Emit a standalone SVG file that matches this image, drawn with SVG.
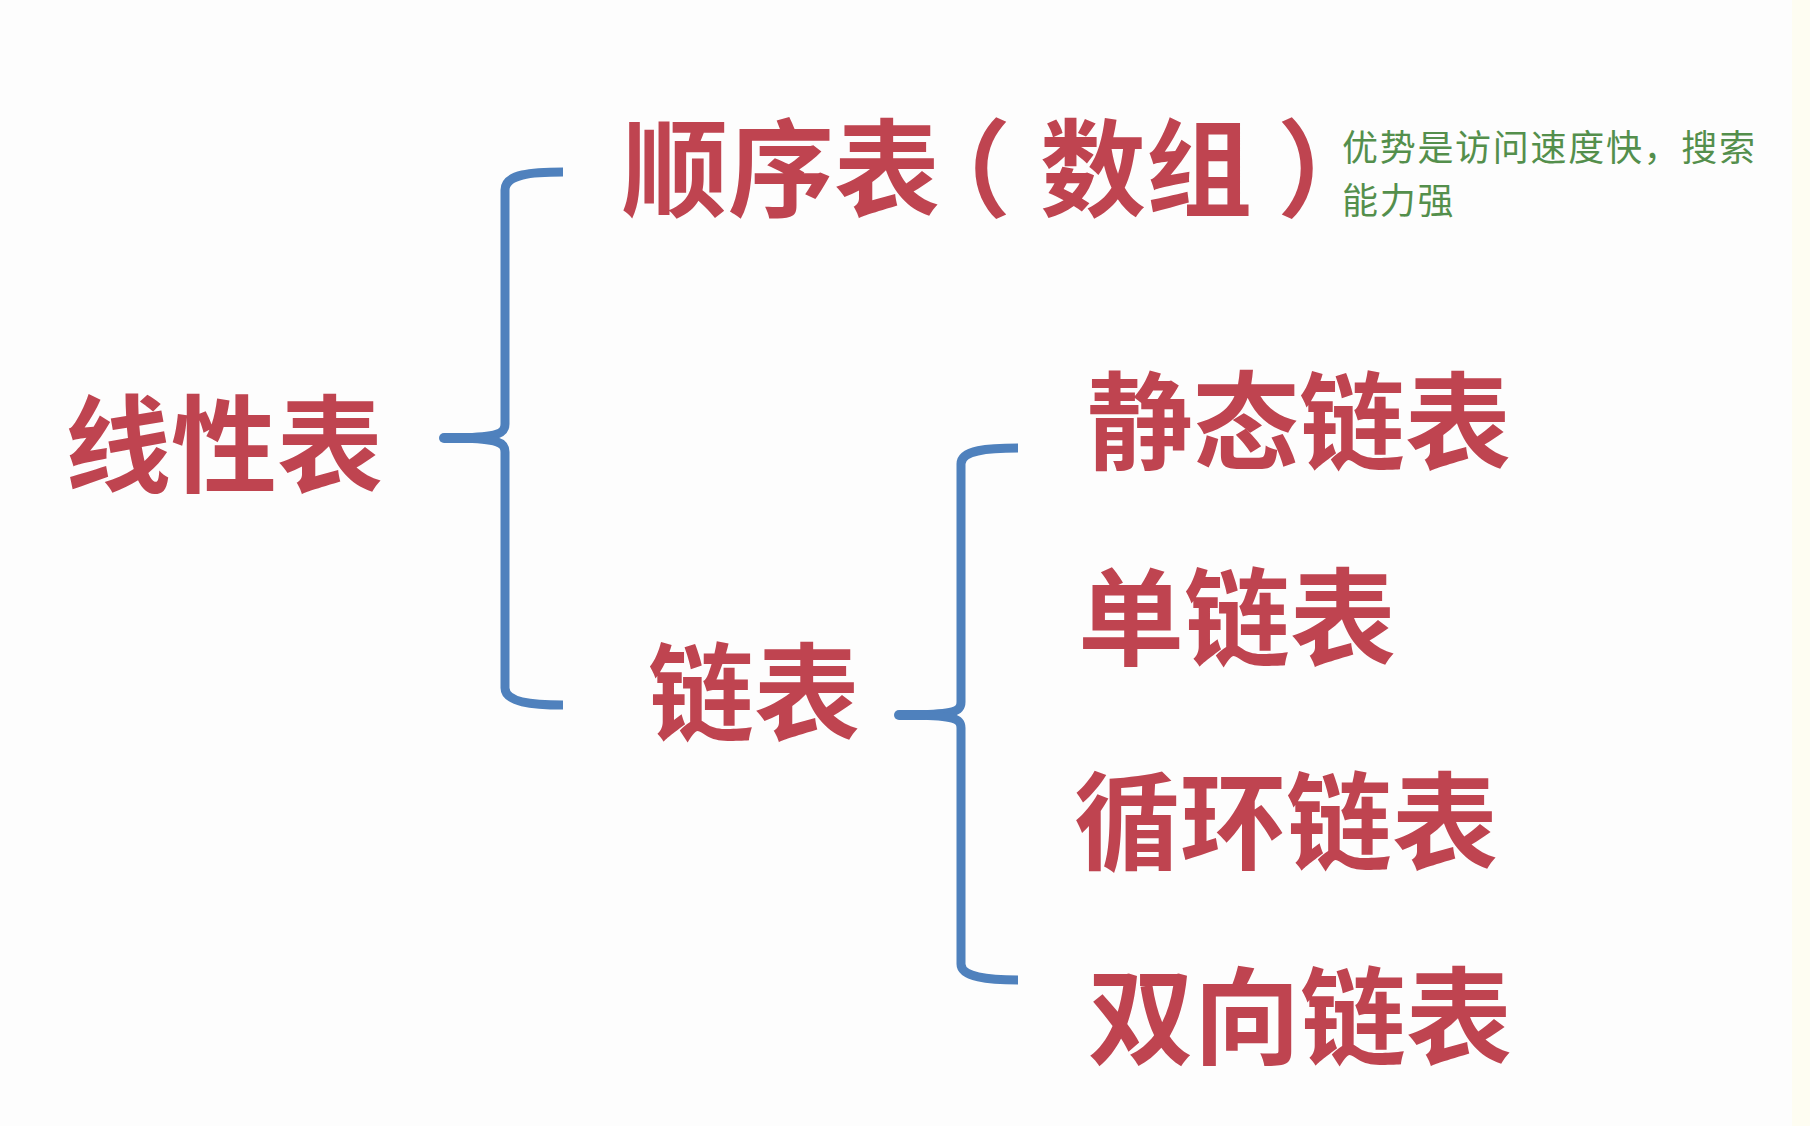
<svg xmlns="http://www.w3.org/2000/svg" width="1810" height="1126" viewBox="0 0 1810 1126">
  <style>
    .big { font-family: "Noto Sans CJK SC", "Noto Sans", sans-serif; font-weight: 700; font-size: 106px; fill: #BF4450; }
    .note { font-family: "Noto Sans CJK SC", "Noto Sans", sans-serif; font-weight: 400; font-size: 36px; fill: #548F4C; letter-spacing: 1.7px; }
    .brace { fill: none; stroke: #4F81BD; stroke-width: 9; stroke-linecap: butt; stroke-linejoin: round; }
    .tip { fill: none; stroke: #4F81BD; stroke-width: 10; stroke-linecap: round; }
    .half { font-feature-settings: "halt" 1; }
  </style>
  <rect x="0" y="0" width="1810" height="1126" fill="#FDFDFD"/>
  <rect x="1792" y="0" width="18" height="1126" fill="#FEFDF2"/>

  <g id="connectors">
    <path class="brace" d="M563,172 C532,172 505,174 505,190 L505,424 C505,434 497,437 460,438"/>
    <path class="brace" d="M460,438 C497,439 505,442 505,452 L505,688 C505,702 532,705 563,705"/>
    <path class="tip" d="M444,438 L470,438"/>
    <path class="brace" d="M1018,448 C988,448 961,450 961,464 L961,702 C961,712 953,714 915,715"/>
    <path class="brace" d="M915,715 C953,716 961,718 961,728 L961,964 C961,977 988,980 1018,980"/>
    <path class="tip" d="M899,715 L925,715"/>
  </g>

  <g id="node-linear">
    <text class="big" x="65" y="484">线性表</text>
  </g>
  <g id="node-seq">
    <text class="big" y="208"><tspan x="622">顺序表</tspan><tspan x="958" class="half">（</tspan><tspan x="1040">数组</tspan><tspan x="1277" class="half">）</tspan></text>
  </g>
  <g id="node-seq-note">
    <text class="note" x="1342" y="161">优势是访问速度快，搜索<tspan x="1342" dy="53">能力强</tspan></text>
  </g>
  <g id="node-linked">
    <text class="big" x="648" y="732">链表</text>
  </g>
  <g id="node-static">
    <text class="big" x="1087" y="461">静态链表</text>
  </g>
  <g id="node-single">
    <text class="big" x="1078" y="657">单链表</text>
  </g>
  <g id="node-circular">
    <text class="big" x="1074" y="861">循环链表</text>
  </g>
  <g id="node-double">
    <text class="big" x="1088" y="1056">双向链表</text>
  </g>
</svg>
